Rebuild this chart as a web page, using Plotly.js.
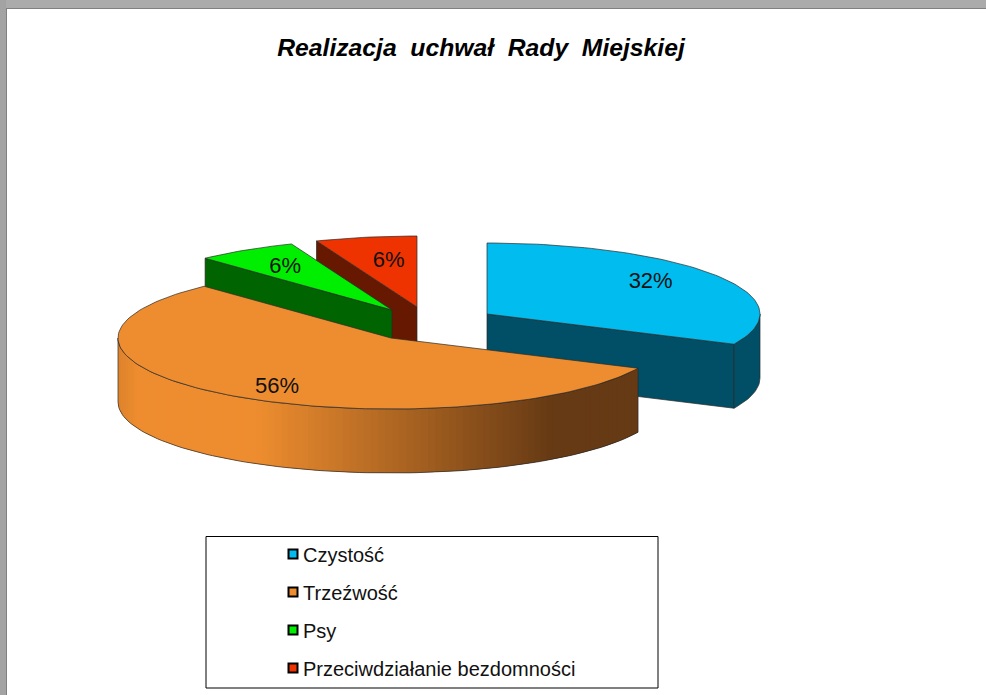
<!DOCTYPE html>
<html>
<head>
<meta charset="utf-8">
<script src="https://cdn.plot.ly/plotly-3.0.1.min.js"></script>
<style>html,body{margin:0;padding:0;background:#fff}</style>
</head>
<body>
<div id="chart" style="width:986px;height:695px"></div>
<script>
// Data
var categories = ["Czystość", "Trzeźwość", "Psy", "Przeciwdziałanie bezdomności"];
var values = [32, 56, 6, 6];

// Style
var topColors = ["#00BCEF", "#EE8D2F", "#00EE00", "#EE3300"];
var wallColors = ["#004F66", "#EE8D2F", "#006400", "#661900"];
var drawOrder = [0, 3, 2, 1];
var centerX = [487, 391, 392, 417];
var centerY = [314, 338, 310, 307];
var radiusX = 273, radiusY = 71, depth = 64;
var labelRadius = 0.71;
var labelDx = [0, 0, -3, 8];
var labelDy = [-4, 9, 0, 4];
var edgeColor = "#2a2a2a";
var font = "'Liberation Sans', Arial, sans-serif";

var total = values.reduce(function (a, b) { return a + b; }, 0);
var traces = [];

function rim(i, deg, dz) {
  var r = deg * Math.PI / 180;
  return [centerX[i] + radiusX * Math.sin(r), centerY[i] - radiusY * Math.cos(r) + dz];
}
function poly(pts, fill, lineColor, width) {
  traces.push({
    x: pts.map(function (p) { return p[0]; }),
    y: pts.map(function (p) { return p[1]; }),
    mode: "lines", fill: "toself", fillcolor: fill,
    line: { color: lineColor, width: width },
    showlegend: false, hoverinfo: "skip"
  });
}
function arcPts(i, a0, a1, dz) {
  var pts = [], n = Math.max(2, Math.ceil(Math.abs(a1 - a0) / 1.5));
  for (var k = 0; k <= n; k++) pts.push(rim(i, a0 + (a1 - a0) * k / n, dz));
  return pts;
}
function mix(t) {
  // horizontal shading of the large front wall, light to dark
  var a = [238, 141, 47], b = [102, 58, 20];
  return "rgb(" + a.map(function (v, j) { return Math.round(v + (b[j] - v) * t); }).join(",") + ")";
}
function shade(x) {
  if (x < 135) return mix(0.12 * (135 - x) / 17);
  if (x < 250) return mix(0);
  if (x > 545) return mix(1);
  return mix((x - 250) / 295);
}

var starts = [], acc = 0;
values.forEach(function (v) { starts.push(acc); acc += v / total * 360; });

drawOrder.forEach(function (i) {
  var a0 = starts[i], a1 = a0 + values[i] / total * 360;
  var apex = [centerX[i], centerY[i]];
  var apexLow = [centerX[i], centerY[i] + depth];
  // radial faces turned to the viewer
  [a0, a1].forEach(function (ang, idx) {
    var facing = (idx === 0 ? -1 : 1) * Math.sin(ang * Math.PI / 180);
    if (facing > 1e-6) {
      poly([apex, rim(i, ang, 0), rim(i, ang, depth), apexLow, apex], wallColors[i], edgeColor, 0.7);
    }
  });
  // outer wall on the near half
  var w0 = Math.max(a0, 90), w1 = Math.min(a1, 270);
  if (w1 > w0) {
    if (i === 1) {
      var step = 1.5;
      for (var a = w0; a < w1; a += step) {
        var b = Math.min(a + step, w1), back = Math.max(a - step, w0);
        var xm = (rim(i, a, 0)[0] + rim(i, b, 0)[0]) / 2;
        var strip = arcPts(i, back, b, 0).concat(arcPts(i, b, back, depth));
        strip.push(strip[0]);
        poly(strip, shade(xm), shade(xm), 0);
      }
      var outline = arcPts(i, w0, w1, 0).concat(arcPts(i, w1, w0, depth));
      outline.push(outline[0]);
      traces.push({
        x: outline.map(function (p) { return p[0]; }), y: outline.map(function (p) { return p[1]; }),
        mode: "lines", line: { color: edgeColor, width: 0.7 }, showlegend: false, hoverinfo: "skip"
      });
    } else {
      var wall = arcPts(i, w0, w1, 0).concat(arcPts(i, w1, w0, depth));
      wall.push(wall[0]);
      poly(wall, wallColors[i], edgeColor, 0.7);
    }
  }
  // top surface
  var top = [apex].concat(arcPts(i, a0, a1, 0));
  top.push(apex);
  poly(top, topColors[i], edgeColor, 0.7);
});

// Percent labels
var labelX = [], labelY = [], labelText = [];
values.forEach(function (v, i) {
  var mid = starts[i] + v / total * 180, r = mid * Math.PI / 180;
  labelX.push(centerX[i] + radiusX * labelRadius * Math.sin(r) + labelDx[i]);
  labelY.push(centerY[i] - radiusY * labelRadius * Math.cos(r) + labelDy[i]);
  labelText.push(Math.round(v / total * 100) + "%");
});
traces.push({
  x: labelX, y: labelY, text: labelText, mode: "text", textposition: "middle center",
  textfont: { family: font, size: 22, color: "#111" }, showlegend: false, hoverinfo: "skip"
});

// Legend entries
categories.forEach(function (name, i) {
  traces.push({
    x: [null], y: [null], name: name, mode: "markers", legendgroup: "g" + i,
    marker: { symbol: "square", size: 9, color: topColors[i], line: { color: "#000", width: 2 } }
  });
});

function box(x0, y0, x1, y1, fill) {
  return { type: "rect", xref: "x", yref: "y", x0: x0, y0: y0, x1: x1, y1: y1, layer: "below",
    fillcolor: fill, line: { width: 0 } };
}

var layout = {
  width: 986, height: 695,
  margin: { l: 0, r: 0, t: 0, b: 0 },
  paper_bgcolor: "#fff", plot_bgcolor: "#fff",
  xaxis: { range: [0, 986], visible: false, fixedrange: true },
  yaxis: { range: [695, 0], visible: false, fixedrange: true },
  title: {
    text: "Realizacja\u00a0 uchwał\u00a0 Rady\u00a0 Miejskiej",
    x: 481 / 986, xanchor: "center", xref: "paper",
    y: 1 - 47 / 695, yanchor: "middle", yref: "container",
    font: { family: font, size: 24.7, color: "#000", weight: "bold", style: "italic" }
  },
  shapes: [
    box(0, 0, 986, 8, "#ababab"), box(0, 0, 6, 695, "#a3a3a3"),
    box(6, 8, 986, 9, "#808080"), box(6, 8, 7, 695, "#808080"),
    { type: "rect", xref: "x", yref: "y", x0: 206, y0: 536.5, x1: 658, y1: 688, layer: "below",
      fillcolor: "#fff", line: { color: "#000", width: 1 } }
  ],
  legend: {
    x: 263 / 986, xanchor: "left", y: 1 - 534.5 / 695, yanchor: "top",
    bgcolor: "rgba(0,0,0,0)", borderwidth: 0,
    font: { family: font, size: 20, color: "#111" },
    traceorder: "grouped", tracegroupgap: 9, itemclick: false, itemdoubleclick: false
  },
  hovermode: false
};
Plotly.newPlot("chart", traces, layout, { displayModeBar: false, staticPlot: true }).then(function () {
  // the swatch sits closer to its text in the reference
  document.querySelectorAll(".legend .legendpoints").forEach(function (el) {
    el.setAttribute("transform", "translate(10,0)");
  });
});
</script>
</body>
</html>
